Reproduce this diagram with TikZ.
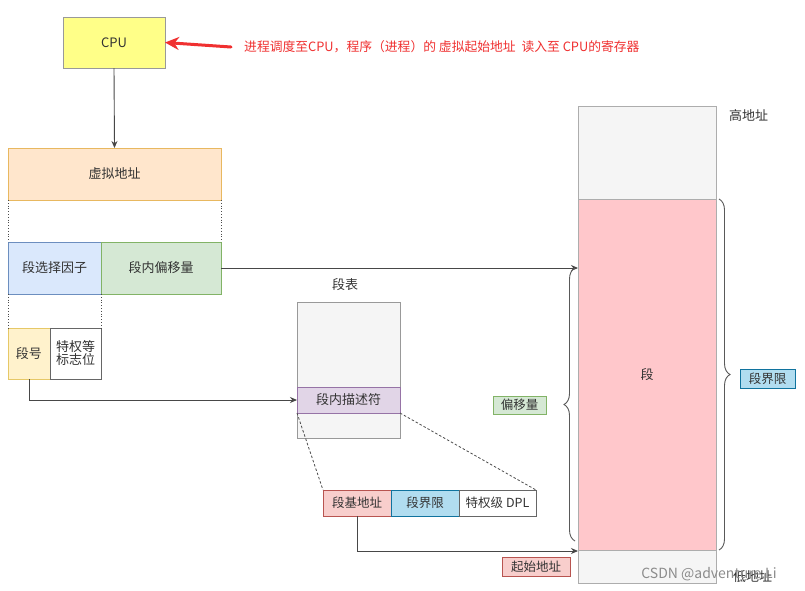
\documentclass[tikz,border=0pt]{standalone}
\usepackage{fontspec}
\setmainfont{Noto Sans CJK SC}
\usetikzlibrary{arrows.meta,decorations.pathreplacing}
\definecolor{txt}{HTML}{333333}
\definecolor{ylwF}{HTML}{FFFF88}
\definecolor{orgF}{HTML}{FFE6CC}\definecolor{orgD}{HTML}{E8B860}
\definecolor{bluF}{HTML}{DAE8FC}\definecolor{bluD}{HTML}{6C8EBF}
\definecolor{grnF}{HTML}{D5E8D4}\definecolor{grnD}{HTML}{82B366}
\definecolor{yl2F}{HTML}{FFF2CC}\definecolor{yl2D}{HTML}{E6C867}
\definecolor{gryF}{HTML}{F5F5F5}\definecolor{gryD}{HTML}{999999}
\definecolor{purF}{HTML}{E1D5E7}\definecolor{purD}{HTML}{9673A6}
\definecolor{redF}{HTML}{F8CECC}\definecolor{redD}{HTML}{B85450}
\definecolor{pnkF}{HTML}{FFC7CB}
\definecolor{cyaF}{HTML}{B1DDF0}\definecolor{cyaD}{HTML}{10739E}
\definecolor{alert}{HTML}{F03030}
\begin{document}
\begin{tikzpicture}[x=1pt,y=-1pt,
  box/.style={draw, line width=0.9pt, inner sep=0pt, outer sep=0pt, text=txt,
    font=\fontsize{13}{15}\selectfont, align=center},
  tag/.style={box, font=\fontsize{12.5}{14}\selectfont},
  conn/.style={draw=txt!90, line width=0.9pt},
  arr/.style={conn, -{Stealth[length=7pt,width=6pt]}},
  dots/.style={draw=black!70, line width=0.8pt, dotted},
  dsh/.style={draw=black!70, line width=0.8pt, dash pattern=on 2.5pt off 2pt},
  brc/.style={draw=black!65, line width=0.9pt, decorate,
    decoration={brace, amplitude=11pt}},
  lbl/.style={text=txt, font=\fontsize{13}{15}\selectfont, inner sep=0pt}
]
\useasboundingbox[fill=white] (0,0) rectangle (805,590);

% CPU
\node[box, fill=ylwF, draw=gryD, minimum width=102, minimum height=51] (cpu) at (114,42.5) {CPU};
\node[anchor=west, text=alert, font=\fontsize{12.8}{14}\selectfont, inner sep=0pt] (note) at (244,47)
  {进程调度至CPU，程序（进程）的 虚拟起始地址\ \ 读入至 CPU的寄存器};
\coordinate (notetail) at (231,47);
\draw[draw=alert, line width=3pt, line cap=round, -{Stealth[length=14pt,width=13pt]}] (notetail) -- (cpu.east);

% virtual address
\node[box, fill=orgF, draw=orgD, minimum width=213, minimum height=52] (va) at (114.5,174) {虚拟地址};
\node[box, fill=bluF, draw=bluD, minimum width=93, minimum height=52] (sel) at (54.5,268) {段选择因子};
\node[box, fill=grnF, draw=grnD, minimum width=120, minimum height=52] (off) at (161,268) {段内偏移量};
\node[box, fill=yl2F, draw=yl2D, minimum width=42, minimum height=51] (segno) at (29,353.5) {段号};
\node[box, fill=white, draw=black!60, minimum width=51, minimum height=51] (priv) at (75.5,353.5) {特权等\\[-2pt]标志位};

\draw[arr] (cpu.south) -- (va.north);
\draw[dots] (va.south west) -- (sel.north west);
\draw[dots] (va.south east) -- (off.north east);
\draw[dots] (sel.south west) -- (segno.north west);
\draw[dots] (sel.south east) -- (priv.north east);

% segment table
\node[lbl] (tbllbl) at (345,285) {段表};
\node[box, fill=gryF, draw=gryD, minimum width=103, minimum height=136] (tbl) at (348.5,370) {};
\node[box, fill=purF, draw=purD, minimum width=103, minimum height=26] (desc) at (348.5,400) {段内描述符};

\draw[arr] (segno.south) |- (desc.west);

% descriptor detail
\node[tag, fill=redF, draw=redD, minimum width=68, minimum height=26] (base) at (357,503) {段基地址};
\node[tag, fill=cyaF, draw=cyaD, minimum width=68, minimum height=26] (lim) at (425,503) {段界限};
\node[tag, fill=white, draw=black!60, minimum width=77, minimum height=26] (dpl) at (497.5,503) {特权级 DPL};
\draw[dsh] (desc.south west) -- (base.north west);
\draw[dsh] (desc.south east) -- (dpl.north east);

% memory column
\node[box, fill=gryF, draw=gryD!80, minimum width=138, minimum height=93] (hi) at (647,152.5) {};
\node[box, fill=pnkF, draw=gryD!80, minimum width=138, minimum height=351] (seg) at (647,374.5) {段};
\node[box, fill=gryF, draw=gryD!80, minimum width=138, minimum height=33] (lo) at (647,566.5) {};
\node[lbl, anchor=west] (hilbl) at (729,116) {高地址};
\node[lbl, anchor=west] (lolbl) at (733,577) {低地址};

\draw[arr] (off.east) -- (off.east -| seg.west);
\coordinate (baseend) at ([yshift=-1pt]seg.south west);
\draw[arr] (base.south) |- (baseend);
\node[tag, fill=redF, draw=redD, minimum width=68, minimum height=19] (start) at (536,566.5) {起始地址};

% braces
\coordinate (rb1) at ([xshift=3pt]seg.north east);
\coordinate (rb2) at ([xshift=3pt]seg.south east);
\draw[brc] (rb1) -- (rb2);
\node[tag, fill=cyaF, draw=cyaD, minimum width=55, minimum height=19] (limlbl) at (767.5,378.5) {段界限};
\coordinate (lb1) at (575,541);
\coordinate (lb2) at (575,268);
\draw[brc] (lb1) -- (lb2);
\node[tag, fill=grnF, draw=grnD, minimum width=53, minimum height=18] (offlbl) at (519.5,405) {偏移量};

% watermark
\node[text=black!45, font=\fontsize{14}{16}\selectfont, inner sep=0pt] (wm) at (709,574) {CSDN @adventure.Li};
\end{tikzpicture}
\end{document}
